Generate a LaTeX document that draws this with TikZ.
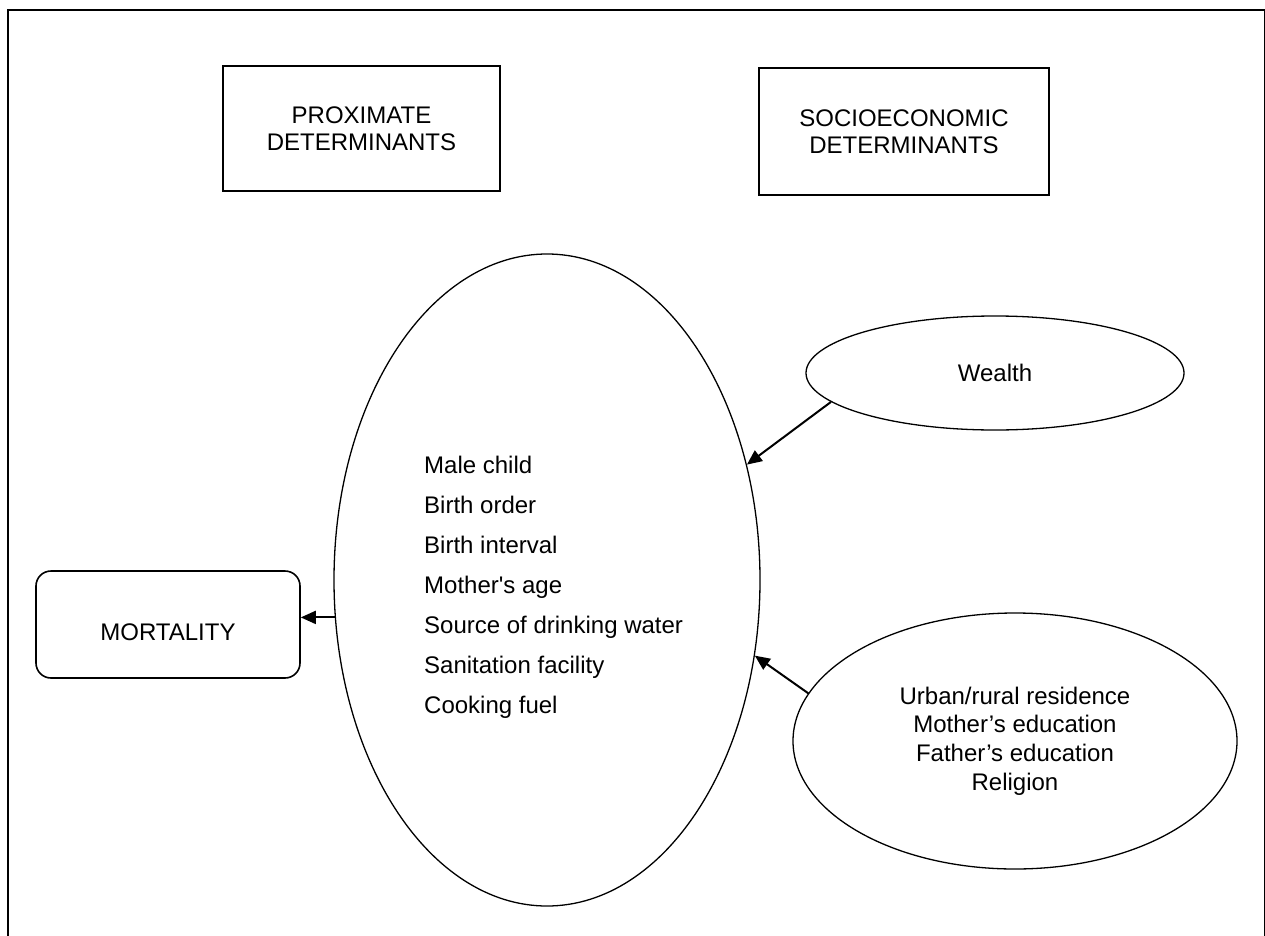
\documentclass[tikz,border=0pt]{standalone}
\usepackage{fontspec}
\setmainfont{Liberation Sans}
\usetikzlibrary{arrows.meta, shapes.geometric}

\begin{document}
\begin{tikzpicture}[
    x=1pt, y=-1pt,
    txt/.style={font=\fontsize{24}{28.6}\selectfont},
    box/.style={draw, line width=1.6pt, txt, align=center, inner sep=0pt},
    oval/.style={draw, ellipse, line width=1.3pt, txt, align=center, inner sep=0pt},
    map/.style={line width=2pt, -{Triangle[length=15pt,width=13pt]}}
]

% page and frame
\useasboundingbox (0,0) rectangle (1265,936);
\draw[line width=2.2pt] (8,960) -- (8,10) -- (1265.5,10) -- (1265.5,960);

% =========================
% HEADINGS
% =========================
\node[box, font=\fontsize{24}{26.5}\selectfont, minimum width=277pt, minimum height=125pt]
    (prox) at (361.5,128.5) {PROXIMATE\\DETERMINANTS};
\node[box, font=\fontsize{24}{26.5}\selectfont, minimum width=290pt, minimum height=127pt]
    (socio) at (904,131.5) {SOCIOECONOMIC\\DETERMINANTS};

% =========================
% OUTCOME
% =========================
\node[box, rounded corners=15pt, minimum width=264pt, minimum height=107pt,
      text height=33pt] (mort) at (168,624.5) {MORTALITY};

% =========================
% PROXIMATE FACTORS
% =========================
\node[oval, minimum width=426pt, minimum height=652pt] (prox-oval) at (547,580) {};
\node[txt, font=\fontsize{24}{40}\selectfont, align=left, inner sep=0pt,
      anchor=north west] (factors) at (424,455.5)
    {Male child\\Birth order\\Birth interval\\Mother\textquotesingle s age\\
     Source of drinking water\\Sanitation facility\\Cooking fuel};

% =========================
% SOCIOECONOMIC FACTORS
% =========================
\node[oval, minimum width=378pt, minimum height=114pt] (wealth) at (995,373) {Wealth};
\node[oval, minimum width=444pt, minimum height=256pt] (socio-oval) at (1015,741)
    {Urban/rural residence\\Mother’s education\\Father’s education\\Religion};

% arrows
\draw[map] (wealth.190) -- (prox-oval.30);
\draw[map] (socio-oval.167) -- (prox-oval.-20.2);
\draw[map] (prox-oval.190.4) -- (prox-oval.190.4 -| mort.east);
\end{tikzpicture}
\end{document}
